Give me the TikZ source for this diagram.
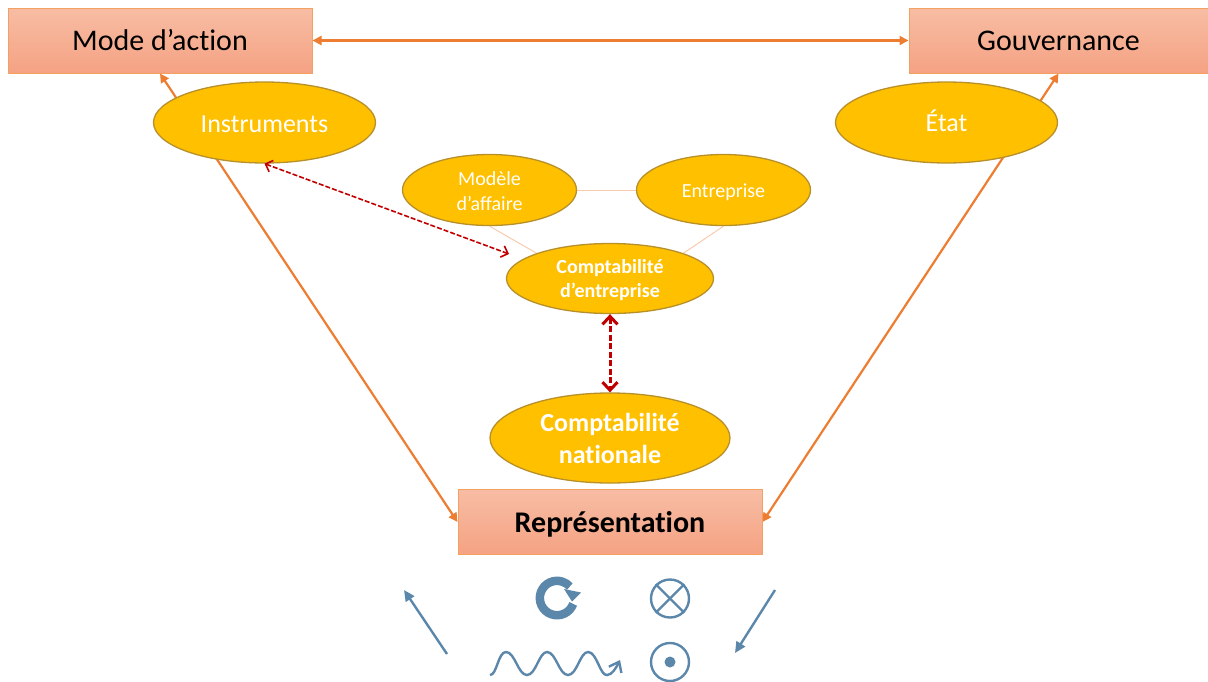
\documentclass[tikz,border=0pt]{standalone}
\usepackage{fontspec}
\setmainfont{Carlito}[RawFeature={-liga}]
\usetikzlibrary{arrows.meta,shapes.geometric}
\definecolor{orA}{HTML}{ED7D31}
\definecolor{boxT}{HTML}{F7BDA4}
\definecolor{boxB}{HTML}{F5A283}
\definecolor{boxL}{HTML}{F4A060}
\definecolor{gold}{HTML}{FFC000}
\definecolor{goldL}{HTML}{B8902A}
\definecolor{redD}{HTML}{C00000}
\definecolor{blueS}{HTML}{5B87AB}
\definecolor{paleL}{HTML}{F8CBAD}
\pgfdeclarelayer{bg}
\pgfsetlayers{bg,main}
\newcommand{\dropby}[2]{\raisebox{-#1}[\height][\depth]{#2}}
\tikzset{
 headbox/.style={draw=boxL,line width=1pt,top color=boxT,bottom color=boxB,minimum width=304pt,minimum height=65pt,inner sep=0pt,text=black},
 oval/.style={ellipse,draw=goldL,line width=1.3pt,fill=gold,inner sep=0pt,text=white,align=center},
 flow/.style={draw=orA,line width=2.2pt,{Triangle[length=9pt,width=9pt]}-{Triangle[length=9pt,width=9pt]}},
 pale/.style={draw=paleL,line width=1pt},
 reddash/.style={draw=redD,dash pattern=on 5pt off 2pt,line width=1.6pt,{Straight Barb[length=6pt,width=12pt]}-{Straight Barb[length=6pt,width=12pt]}},
 reddashbig/.style={draw=redD,dash pattern=on 6pt off 2.5pt,line width=3pt,{Straight Barb[length=8pt,width=15pt]}-{Straight Barb[length=8pt,width=15pt]}},
 sym/.style={draw=blueS,line width=2.4pt},
 symarrow/.style={sym,-{Triangle[length=11pt,width=10pt]}}
}
\begin{document}
\begin{tikzpicture}[x=1pt,y=-1pt]
\useasboundingbox (0,0) rectangle (1208,681);
% boxes
\node[headbox,font=\fontsize{30pt}{36pt}\selectfont] (mode) at (160,40.5) {Mode d’action};
\node[headbox,font=\fontsize{30pt}{36pt}\selectfont,minimum width=299pt] (gouv) at (1058.5,40.5) {Gouvernance};
\node[headbox,font=\fontsize{30pt}{36pt}\selectfont] (rep) at (610,522) {\dropby{2pt}{\textbf{Représentation}}};
% ovals
\node[oval,font=\fontsize{26pt}{31pt}\selectfont,minimum width=222pt,minimum height=81pt] (inst) at (264.5,122.5) {\dropby{2pt}{Instruments}};
\node[oval,font=\fontsize{26pt}{31pt}\selectfont,minimum width=222pt,minimum height=81pt] (etat) at (946.5,122.5) {\dropby{-2pt}{État}};
\node[oval,font=\fontsize{20pt}{25pt}\selectfont,minimum width=174pt,minimum height=71pt] (modele) at (489.5,190) {\dropby{1pt}{Modèle}\\\dropby{1pt}{d’affaire}};
\node[oval,font=\fontsize{20pt}{25pt}\selectfont,minimum width=174pt,minimum height=71pt] (entr) at (723.5,190) {\dropby{2pt}{Entreprise}};
\node[oval,font=\fontsize{20pt}{24pt}\selectfont,minimum width=207pt,minimum height=70pt] (ce) at (610,278.5) {\dropby{2pt}{\textbf{Comptabilité}}\\\dropby{2pt}{\textbf{d’entreprise}}};
\node[oval,font=\fontsize{26pt}{32pt}\selectfont,minimum width=240pt,minimum height=90pt] (cn) at (610,438) {\textbf{Comptabilité}\\\textbf{nationale}};
\coordinate (redend) at (509,254);
% connectors
\draw[flow] (mode.east) -- (gouv.west);
\begin{pgfonlayer}{bg}
\draw[flow] (rep.west) -- (mode.south);
\draw[flow] (rep.east) -- (gouv.south);
\draw[pale] (modele.east) -- (entr.west);
\draw[pale] (modele.south) -- (ce.161);
\draw[pale] (entr.south) -- (ce.19);
\end{pgfonlayer}
\draw[reddash] (inst.south) -- (redend);
\draw[reddashbig] (ce.south) -- (cn.north);
% legend symbols
\coordinate (a1) at (447,654); \coordinate (a2) at (404,590);
\coordinate (b1) at (775,590); \coordinate (b2) at (735,653);
\draw[symarrow] (a1) -- (a2);
\draw[symarrow] (b1) -- (b2);
\draw[blueS,line width=8.5pt] (573.2,603.9) arc[start angle=20,end angle=318,radius=17.2];
\fill[blueS] (564,589) -- (581,592.5) -- (572,601.5) -- cycle;
\node[circle,draw=blueS,line width=2.4pt,minimum size=38pt,inner sep=0pt] (cross) at (670,598.5) {};
\draw[sym] (cross.45) -- (cross.225);
\draw[sym] (cross.135) -- (cross.315);
\node[circle,draw=blueS,line width=2.4pt,minimum size=38pt,inner sep=0pt] (dot) at (670,662) {};
\fill[blueS] (dot.center) circle[radius=5.5pt];
\draw[sym,-{Straight Barb[length=9pt,width=14pt]}] (490,675) .. controls (497,675) and (498,652) .. (506,652)
  .. controls (515,652) and (518,675) .. (527,675)
  .. controls (536,675) and (539,652) .. (547,652)
  .. controls (556,652) and (559,675) .. (568,675)
  .. controls (577,675) and (580,652) .. (588,652)
  .. controls (597,652) and (600,676) .. (607,675)
  .. controls (612,675) and (616,668) .. (620,660);
\end{tikzpicture}
\end{document}
